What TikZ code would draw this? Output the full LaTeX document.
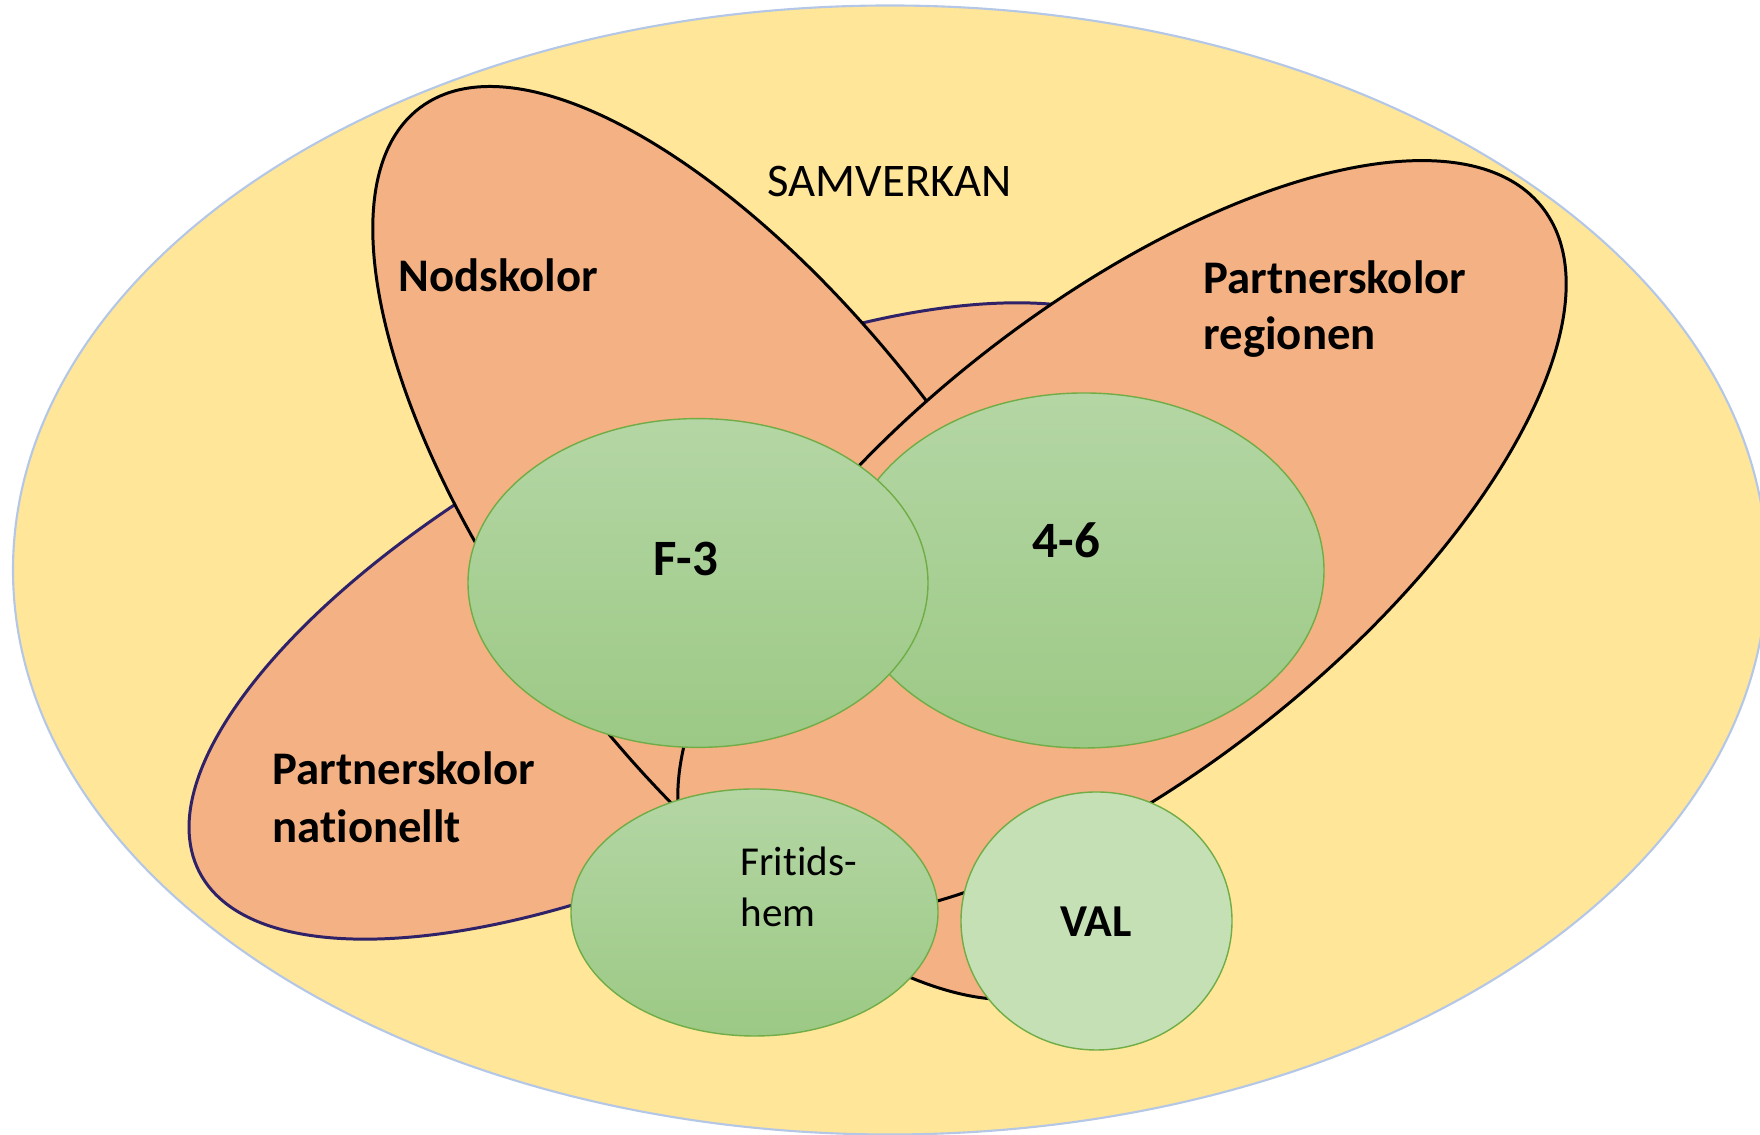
\documentclass[tikz,border=0pt]{standalone}
\usepackage{fontspec}
\setmainfont[Ligatures=NoCommon]{Carlito}
\usetikzlibrary{shapes}

\definecolor{samfill}{HTML}{FFE699}
\definecolor{samline}{HTML}{B4C7E7}
\definecolor{skolfill}{HTML}{F4B183}
\definecolor{natline}{HTML}{2F2268}
\definecolor{grntop}{HTML}{B4D6A4}
\definecolor{grnbot}{HTML}{9CC985}
\definecolor{grnline}{HTML}{70AD47}
\definecolor{valfill}{HTML}{C5E0B4}

\begin{document}
\begin{tikzpicture}[
    skola/.style={fill=skolfill, draw=black, line width=0.85pt},
    stadie/.style={draw=grnline, line width=0.4pt, top color=grntop, bottom color=grnbot},
    rubrik/.style={font=\fontsize{13.3}{16}\selectfont\bfseries, anchor=base west, inner sep=0pt},
    stadietext/.style={font=\fontsize{14.5}{17}\selectfont\bfseries, anchor=base, inner sep=0pt}
]
    \useasboundingbox (0,0) rectangle (17.6,11.35);

    % Samverkan
    \draw[fill=samfill, draw=samline, line width=0.6pt] (8.90,5.65) ellipse (8.77cm and 5.645cm);
    \node[font=\fontsize{13.3}{16}\selectfont, anchor=base west, inner sep=0pt] (samverkan) at (7.67,9.38) {SAMVERKAN};

    % Partnerskolor nationellt
    \draw[skola, draw=natline, rotate around={27:(6.91,5.14)}] (6.91,5.14) ellipse (5.52cm and 2.20cm);

    % Nodskolor
    \draw[skola, rotate around={-53:(7.48,5.92)}] (7.48,5.92) ellipse (5.45cm and 2.28cm);

    % Partnerskolor regionen
    \draw[skola, rotate around={38.4:(11.22,5.95)}] (11.22,5.95) ellipse (5.36cm and 2.32cm);

    % Stadier
    \draw[stadie] (10.84,5.645) ellipse (2.40cm and 1.775cm);
    \draw[stadie] (6.98,5.52) ellipse (2.30cm and 1.644cm);
    \draw[stadie] (7.545,2.225) ellipse (1.835cm and 1.235cm);
    \draw[fill=valfill, draw=grnline, line width=0.4pt] (10.965,2.14) ellipse (1.355cm and 1.29cm);

    % Texter
    \node[rubrik] (nod) at (3.98,8.43) {Nodskolor};
    \node[rubrik] (reg1) at (12.03,8.41) {Partnerskolor};
    \node[rubrik] (reg2) at (12.03,7.85) {regionen};
    \node[rubrik] (nat1) at (2.72,3.50) {Partnerskolor};
    \node[rubrik] (nat2) at (2.72,2.92) {nationellt};
    \node[stadietext] (f3) at (6.855,5.59) {F-3};
    \node[stadietext] (mellan) at (10.665,5.77) {4-6};
    \node[stadietext, font=\fontsize{13}{16}\selectfont\bfseries] (val) at (10.96,1.98) {VAL};
    \node[font=\fontsize{11.7}{14}\selectfont, anchor=base west, inner sep=0pt] (fri1) at (7.40,2.59) {Fritids-};
    \node[font=\fontsize{11.7}{14}\selectfont, anchor=base west, inner sep=0pt] (fri2) at (7.40,2.08) {hem};
\end{tikzpicture}
\end{document}
